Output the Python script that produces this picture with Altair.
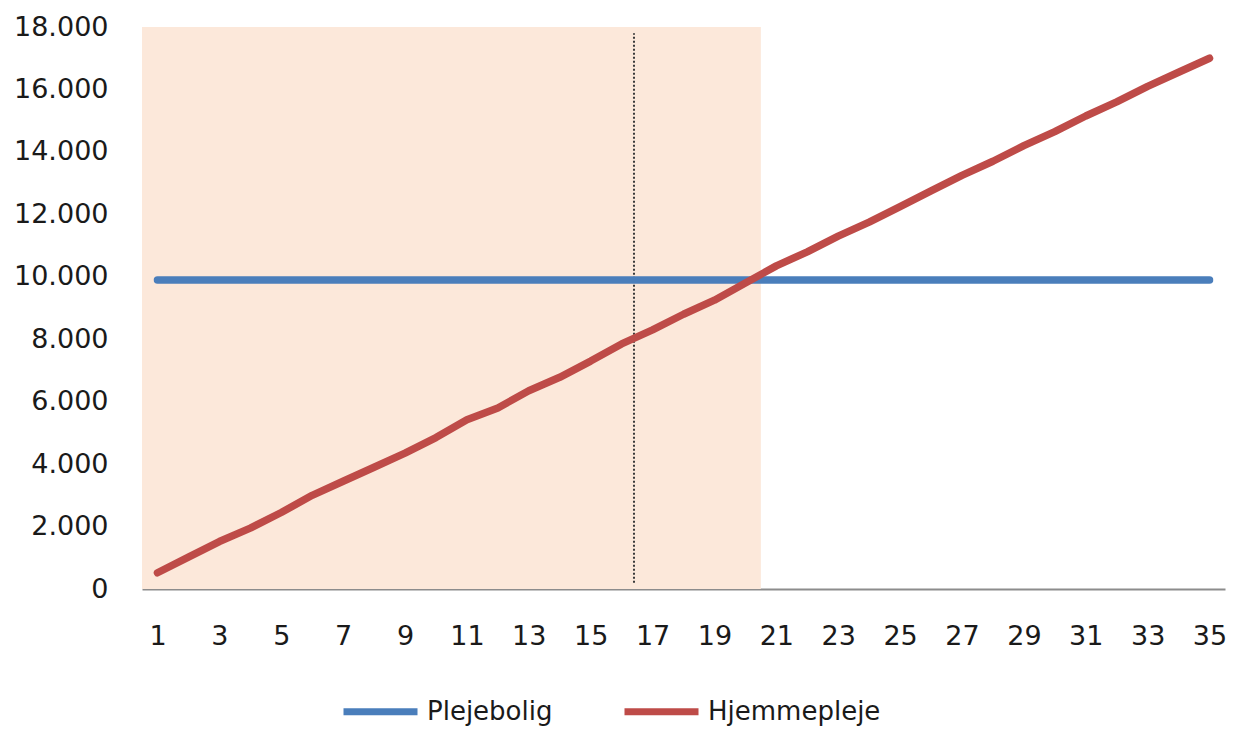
import altair as alt
import pandas as pd

# Data
periods = list(range(1, 36))
plejebolig = [9900] * 35
hjemmepleje = [520, 1020, 1520, 1950, 2450, 3000, 3450, 3900, 4350, 4850,
               5420, 5800, 6350, 6780, 7300, 7850, 8300, 8800, 9250, 9800,
               10350, 10800, 11300, 11750, 12250, 12750, 13250, 13700, 14200, 14650,
               15150, 15600, 16100, 16550, 17000]
series_names = ["Plejebolig", "Hjemmepleje"]
series_colors = ["#4A7EBB", "#BE4B48"]
shade_start, shade_end = 0.5, 20.5
marker_x = 16.4
marker_y0, marker_y1 = 200, 17800
y_ticks = list(range(0, 18001, 2000))
x_ticks = list(range(1, 36, 2))

df = pd.DataFrame({
    "periode": periods * 2,
    "value": plejebolig + hjemmepleje,
    "serie": [series_names[0]] * len(periods) + [series_names[1]] * len(periods),
})
shade = pd.DataFrame({"x": [shade_start], "x2": [shade_end], "y": [0], "y2": [18000]})
marker = pd.DataFrame({"x": [marker_x], "y": [marker_y0], "y2": [marker_y1]})

FONT = "DejaVu Sans"

x_scale = alt.Scale(domain=[0.5, 35.5], nice=False, zero=False)
y_scale = alt.Scale(domain=[0, 18000], nice=False)

rect = alt.Chart(shade).mark_rect(color="#FCE8DA").encode(
    x=alt.X("x:Q", scale=x_scale),
    x2="x2:Q",
    y=alt.Y("y:Q", scale=y_scale),
    y2="y2:Q",
)

rule = alt.Chart(marker).mark_rule(color="#3a3a3a", strokeWidth=2, strokeDash=[2, 2]).encode(
    x=alt.X("x:Q", scale=x_scale),
    y=alt.Y("y:Q", scale=y_scale),
    y2="y2:Q",
)

lines = alt.Chart(df).mark_line(strokeWidth=7.5, strokeCap="round", strokeJoin="round").encode(
    x=alt.X("periode:Q", scale=x_scale, title=None,
            axis=alt.Axis(values=x_ticks, grid=False, ticks=False, domain=True,
                          domainColor="#8C8C8C", domainWidth=2,
                          labelFont=FONT, labelFontSize=27, labelColor="#1a1a1a",
                          labelPadding=34, labelFlush=False)),
    y=alt.Y("value:Q", scale=y_scale, title=None,
            axis=alt.Axis(values=y_ticks, grid=False, ticks=False, domain=False,
                          labelFont=FONT, labelFontSize=27, labelColor="#1a1a1a",
                          labelPadding=34, labelFlush=False,
                          labelExpr="replace(format(datum.value, ','), ',', '.')")),
    color=alt.Color("serie:N", scale=alt.Scale(domain=series_names, range=series_colors),
                    sort=series_names,
                    legend=alt.Legend(title=None, orient="none", direction="horizontal",
                                      legendX=198, legendY=644,
                                      symbolType="stroke", symbolSize=5476,
                                      symbolStrokeWidth=7, labelFont=FONT,
                                      labelFontSize=26, labelColor="#1a1a1a",
                                      labelLimit=400, labelOffset=6, columnPadding=57)),
    detail="serie:N",
)

chart = alt.layer(rect, rule, lines).properties(
    width=1083, height=562,
    padding={"left": 134, "top": 19, "right": 5, "bottom": 140},
    autosize=alt.AutoSizeParams(type="none"),
).configure_view(stroke=None)

chart.save("out.html", embed_options={"renderer": "svg", "actions": False})
